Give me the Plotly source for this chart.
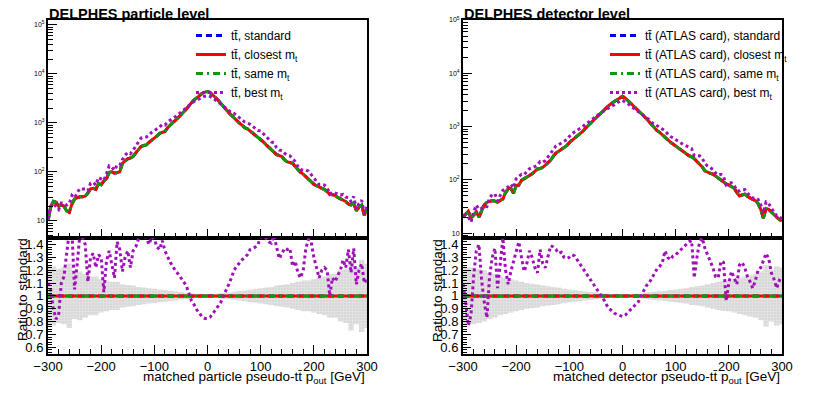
import plotly.graph_objects as go

# the page body keeps its default 8 px margin: the figure is made 16 px smaller so the
# page fits the window, and every position below is given in window pixels
PAD = 8
W, H = 830 - 2 * PAD, 397 - 2 * PAD
FONT = "Liberation Sans, Arial, Helvetica, sans-serif"
BLUE, RED, GREEN, PURPLE = "#0000ff", "#ff0000", "#0a9a0a", "#a010b8"

# bin centres (5 GeV) for the distributions, 10 GeV for the stat. band
PT = list(range(-300, 301, 5))
PT_ERR = list(range(-300, 301, 10))

# ---- DELPHES particle level ----
PART_STD = [
    10, 19, 25, 24, 20, 21, 20, 16, 15, 22,
    28, 30, 31, 31, 32, 37, 45, 46, 44, 58,
    55, 65, 72, 98, 100, 94, 97, 100, 150, 168,
    185, 192, 205, 245, 280, 330, 345, 355, 400, 440,
    480, 540, 610, 650, 670, 800, 920, 1020, 1130, 1280,
    1450, 1600, 1900, 2250, 2600, 2950, 3250, 3650, 4000, 4250,
    4350, 4150, 3750, 3300, 2900, 2550, 2150, 1880, 1620, 1420,
    1300, 1130, 990, 900, 800, 760, 690, 620, 560, 500,
    470, 410, 360, 320, 290, 265, 225, 215, 205, 175,
    160, 155, 150, 128, 110, 98, 90, 80, 72, 62,
    56, 52, 48, 46, 44, 40, 35, 34, 33, 30,
    28, 27, 25, 22, 21, 23, 16, 19, 21, 13,
    17,
]
PART_BEST_RATIO = [
    1.10, 1.05, 0.90, 0.82, 0.85, 1.10, 1.15, 1.30, 1.50, 1.50,
    1.05, 1.25, 1.48, 1.45, 1.40, 1.11, 1.30, 1.33, 1.22, 1.32,
    1.30, 1.03, 1.27, 1.35, 1.25, 1.14, 1.42, 1.36, 1.19, 1.30,
    1.35, 1.22, 1.35, 1.38, 1.44, 1.48, 1.47, 1.45, 1.40, 1.46,
    1.44, 1.38, 1.36, 1.43, 1.35, 1.30, 1.26, 1.23, 1.19, 1.17,
    1.14, 1.12, 1.08, 1.02, 0.96, 0.93, 0.89, 0.865, 0.835, 0.825,
    0.825, 0.835, 0.86, 0.89, 0.92, 0.95, 1.00, 1.04, 1.09, 1.14,
    1.20, 1.23, 1.26, 1.28, 1.30, 1.32, 1.36, 1.37, 1.38, 1.40,
    1.46, 1.46, 1.45, 1.42, 1.41, 1.47, 1.37, 1.29, 1.33, 1.37,
    1.36, 1.37, 1.23, 1.27, 1.18, 1.14, 1.20, 1.37, 1.44, 1.42,
    1.30, 1.22, 1.14, 1.20, 1.22, 1.20, 1.00, 1.14, 1.11, 1.16,
    1.20, 1.28, 1.22, 1.36, 1.18, 1.37, 1.09, 1.20, 1.25, 1.10,
    1.14,
]
PART_ERR = [
    0.23, 0.23, 0.21, 0.22, 0.25, 0.18, 0.19, 0.17, 0.15, 0.15,
    0.13, 0.12, 0.11, 0.11, 0.09, 0.085, 0.08, 0.07, 0.065, 0.06,
    0.055, 0.05, 0.045, 0.04, 0.035, 0.03, 0.025, 0.02, 0.017, 0.015,
    0.014, 0.015, 0.018, 0.022, 0.027, 0.032, 0.037, 0.042, 0.048, 0.053,
    0.06, 0.065, 0.07, 0.08, 0.085, 0.09, 0.10, 0.11, 0.12, 0.12,
    0.13, 0.14, 0.15, 0.17, 0.17, 0.20, 0.21, 0.27, 0.22, 0.28,
    0.25,
]

# ---- DELPHES detector level ----
DET_STD = [
    20, 23, 26, 19, 22, 25, 20, 26, 34, 38,
    40, 41, 40, 38, 41, 44, 58, 68, 70, 56,
    78, 80, 98, 105, 112, 120, 130, 145, 160, 163,
    172, 190, 210, 235, 280, 320, 345, 370, 405, 440,
    500, 560, 610, 670, 725, 810, 920, 1020, 1160, 1300,
    1460, 1640, 1830, 2050, 2300, 2520, 2760, 2980, 3250, 3550,
    3700, 3450, 3100, 2750, 2480, 2220, 1950, 1750, 1580, 1400,
    1230, 1050, 940, 840, 780, 700, 620, 560, 510, 470,
    430, 395, 360, 330, 310, 285, 270, 250, 222, 200,
    175, 148, 138, 133, 129, 118, 108, 100, 92, 84,
    80, 74, 70, 58, 50, 52, 54, 49, 45, 43,
    41, 36, 28, 19, 29, 28, 25, 22, 20, 18,
    17,
]
DET_BEST_RATIO = [
    1.09, 0.95, 0.77, 0.85, 1.15, 1.35, 1.40, 1.12, 0.95, 0.83,
    1.15, 1.30, 1.37, 1.06, 1.25, 1.45, 1.20, 1.09, 1.19, 1.26,
    1.35, 1.42, 1.30, 1.19, 1.25, 1.35, 1.30, 1.22, 1.18, 1.36,
    1.25, 1.22, 1.31, 1.39, 1.38, 1.36, 1.33, 1.34, 1.30, 1.29,
    1.30, 1.32, 1.31, 1.28, 1.25, 1.22, 1.19, 1.16, 1.13, 1.09,
    1.07, 1.03, 1.01, 0.97, 0.93, 0.90, 0.885, 0.865, 0.855, 0.85,
    0.84, 0.85, 0.87, 0.89, 0.91, 0.93, 0.955, 1.00, 1.04, 1.08,
    1.10, 1.14, 1.18, 1.21, 1.23, 1.26, 1.35, 1.30, 1.28, 1.31,
    1.32, 1.34, 1.36, 1.38, 1.40, 1.42, 1.43, 1.14, 1.30, 1.42,
    1.45, 1.37, 1.32, 1.27, 1.22, 1.15, 1.14, 1.27, 1.26, 0.96,
    1.10, 1.19, 1.14, 1.09, 1.24, 1.26, 1.22, 1.15, 1.11, 1.06,
    1.12, 1.20, 1.22, 1.27, 1.33, 1.29, 1.18, 1.13, 1.06, 1.12,
    1.11,
]
DET_ERR = [
    0.23, 0.22, 0.22, 0.21, 0.20, 0.18, 0.17, 0.15, 0.14, 0.13,
    0.12, 0.11, 0.10, 0.095, 0.09, 0.08, 0.075, 0.07, 0.065, 0.055,
    0.05, 0.045, 0.04, 0.035, 0.032, 0.028, 0.023, 0.018, 0.015, 0.012,
    0.011, 0.012, 0.015, 0.018, 0.023, 0.028, 0.032, 0.036, 0.04, 0.045,
    0.05, 0.055, 0.06, 0.07, 0.075, 0.08, 0.09, 0.10, 0.11, 0.115,
    0.12, 0.13, 0.14, 0.15, 0.16, 0.17, 0.19, 0.24, 0.20, 0.23,
    0.22,
]

PART_NAMES = ["tt\u0304, standard", "tt\u0304, closest m<sub>t</sub>",
              "tt\u0304, same m<sub>t</sub>", "tt\u0304, best m<sub>t</sub>"]
DET_NAMES = ["tt\u0304 (ATLAS card), standard", "tt\u0304 (ATLAS card), closest m<sub>t</sub>",
             "tt\u0304 (ATLAS card), same m<sub>t</sub>", "tt\u0304 (ATLAS card), best m<sub>t</sub>"]

RATIO_TICKS = [0.6, 0.7, 0.8, 0.9, 1.0, 1.1, 1.2, 1.3, 1.4]
RATIO_TEXT = ["0.6", "0.7", "0.8", "0.9", "1", "1.1", "1.2", "1.3", "1.4"]
LOG_TICKS = [10, 100, 1000, 10000, 100000]
LOG_TEXT = ["10", "10<sup>2</sup>", "10<sup>3</sup>", "10<sup>4</sup>", "10<sup>5</sup>"]
LOG_MINOR = [m * 10 ** d for d in range(0, 5) for m in range(2, 10)]


def px(x):
    return (x - PAD) / W


def py(y):
    return 1 - (y - PAD) / H


STYLES = [
    dict(color=BLUE, width=3, dash="6px,4px"),
    dict(color=RED, width=3),
    dict(color=GREEN, width=3, dash="7px,4px,2px,4px"),
    dict(color=PURPLE, width=3, dash="dot"),
]

PANELS = [
    dict(std=PART_STD, best=PART_BEST_RATIO, err=PART_ERR, names=PART_NAMES,
         left=48, right=367, logrange=[0.65, 5.1], legend="legend", leg_x=191,
         title="DELPHES particle level",
         xtitle="matched particle pseudo-tt\u0304 p<sub>out</sub> [GeV]", ytitle_x=22),
    dict(std=DET_STD, best=DET_BEST_RATIO, err=DET_ERR, names=DET_NAMES,
         left=463, right=782, logrange=[0.91, 5.0], legend="legend2", leg_x=605,
         title="DELPHES detector level",
         xtitle="matched detector pseudo-tt\u0304 p<sub>out</sub> [GeV]", ytitle_x=437),
]

TOP, MID, BOT = 20, 238, 353.5

fig = go.Figure()
layout = dict(width=W, height=H, margin=dict(l=0, r=0, t=0, b=0, autoexpand=False),
              paper_bgcolor="white", plot_bgcolor="white",
              font=dict(family=FONT, color="black"), annotations=[])

for i, p in enumerate(PANELS):
    nu, nl = 2 * i + 1, 2 * i + 2
    xu, yu = ("x", "y") if nu == 1 else (f"x{nu}", f"y{nu}")
    xl, yl = f"x{nl}", f"y{nl}"
    std = p["std"]
    best = [s * r for s, r in zip(std, p["best"])]
    upper = [std, std, std, best]   # closest / same m_t coincide with standard
    for name, ys, st in zip(p["names"], upper, STYLES):
        fig.add_trace(go.Scatter(x=PT, y=ys, mode="lines", name=name, line=st,
                                 xaxis=xu, yaxis=yu, legend=p["legend"]))

    # ratio panel: stat. band, then ratios to standard
    lo = [1 - e for e in p["err"]]
    hi = [1 + e for e in p["err"]]
    fig.add_trace(go.Scatter(x=PT_ERR, y=lo, mode="lines", line=dict(width=0, shape="hvh"),
                             showlegend=False, xaxis=xl, yaxis=yl, hoverinfo="skip",
                             legend=p["legend"]))
    fig.add_trace(go.Scatter(x=PT_ERR, y=hi, mode="lines", line=dict(width=0, shape="hvh"),
                             fill="tonexty", fillcolor="#d4d4d4",
                             fillpattern=dict(shape="+", bgcolor="#d8d8d8", fgcolor="white",
                                              size=3, solidity=0.25),
                             showlegend=False, xaxis=xl, yaxis=yl, hoverinfo="skip",
                             legend=p["legend"]))
    ratios = [[a / b for a, b in zip(ys, std)] for ys in upper]
    for ys, st in zip(ratios, STYLES):
        fig.add_trace(go.Scatter(x=PT, y=ys, mode="lines", line=st, showlegend=False,
                                 xaxis=xl, yaxis=yl, legend=p["legend"]))

    dom = [px(p["left"]), px(p["right"])]
    common = dict(showline=True, linecolor="black", linewidth=2, mirror=True,
                  showgrid=False, zeroline=False, ticks="inside", tickcolor="black",
                  tickwidth=1)
    xk_u = "xaxis" if nu == 1 else f"xaxis{nu}"
    yk_u = "yaxis" if nu == 1 else f"yaxis{nu}"
    layout[xk_u] = dict(common, domain=dom, anchor=yu, range=[-300, 300], dtick=100, tick0=0,
                        ticklen=9, showticklabels=False,
                        minor=dict(dtick=20, ticklen=5, ticks="inside", tickcolor="black"))
    layout[yk_u] = dict(common, domain=[py(MID), py(TOP)], anchor=xu, type="log",
                        range=p["logrange"], tickvals=LOG_TICKS, ticktext=LOG_TEXT,
                        tickfont=dict(size=7), ticklen=9,
                        minor=dict(tickvals=LOG_MINOR, ticklen=5, ticks="inside",
                                   tickcolor="black"))
    layout[f"xaxis{nl}"] = dict(common, domain=dom, anchor=yl, range=[-300, 300], dtick=100,
                                tick0=0, ticklen=9, tickfont=dict(size=13),
                                minor=dict(dtick=20, ticklen=5, ticks="inside",
                                           tickcolor="black"))
    layout[f"yaxis{nl}"] = dict(common, domain=[py(BOT), py(MID)], anchor=xl,
                                range=[0.552, 1.45], tickvals=RATIO_TICKS, ticktext=RATIO_TEXT,
                                tickfont=dict(size=13), ticklen=8,
                                minor=dict(dtick=0.02, tick0=0, ticklen=4, ticks="inside",
                                           tickcolor="black"))
    layout[p["legend"]] = dict(x=px(p["leg_x"]), y=py(21), xanchor="left", yanchor="top",
                               bgcolor="rgba(0,0,0,0)", font=dict(size=12, family=FONT),
                               tracegroupgap=0, itemwidth=30, traceorder="normal")

    layout["annotations"] += [
        dict(text=f"<b>{p['title']}</b>", x=px(p["left"]), y=py(13.6), xref="paper",
             yref="paper", xanchor="left", yanchor="middle", showarrow=False,
             font=dict(size=14.5), borderpad=0),
        dict(text=p["xtitle"], x=px(p["right"]), y=py(377), xref="paper", yref="paper",
             xanchor="right", yanchor="middle", showarrow=False, font=dict(size=13.5)),
        dict(text="Ratio to standard", x=px(p["ytitle_x"]), y=py(290), xref="paper",
             yref="paper", xanchor="center", yanchor="middle", textangle=-90,
             showarrow=False, font=dict(size=13.5)),
    ]

fig.update_layout(**layout)
fig.write_html("out.html")
